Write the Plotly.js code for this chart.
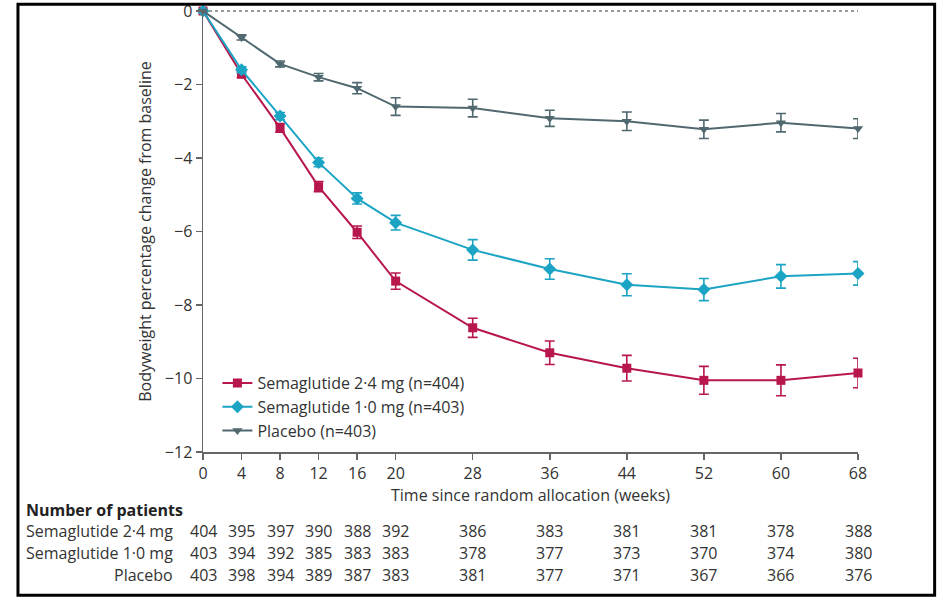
<!DOCTYPE html>
<html>
<head>
<meta charset="utf-8">
<script src="https://cdn.plot.ly/plotly-3.0.1.min.js"></script>
<style>
html,body{margin:0;padding:0;background:#fff;}
#chart{width:939px;height:599px;}
</style>
</head>
<body>
<div id="chart"></div>
<script>
const weeks = [0, 4, 8, 12, 16, 20, 28, 36, 44, 52, 60, 68];
const sema24 = [0, -1.72, -3.18, -4.78, -6.02, -7.35, -8.62, -9.3, -9.72, -10.05, -10.05, -9.85];
const sema24Err = [0, 0.09, 0.12, 0.14, 0.17, 0.22, 0.26, 0.32, 0.35, 0.38, 0.42, 0.4];
const sema10 = [0, -1.6, -2.86, -4.12, -5.1, -5.76, -6.5, -7.02, -7.45, -7.58, -7.22, -7.14];
const sema10Err = [0, 0.08, 0.1, 0.12, 0.15, 0.2, 0.28, 0.28, 0.3, 0.3, 0.32, 0.32];
const placebo = [0, -0.72, -1.44, -1.8, -2.1, -2.6, -2.64, -2.92, -3.0, -3.22, -3.04, -3.2];
const placeboErr = [0, 0.07, 0.08, 0.1, 0.15, 0.24, 0.24, 0.22, 0.25, 0.25, 0.25, 0.27];

const seriesNames = ['Semaglutide 2·4 mg (n=404)', 'Semaglutide 1·0 mg (n=403)', 'Placebo (n=403)'];
const tableLabels = ['Semaglutide 2·4 mg', 'Semaglutide 1·0 mg', 'Placebo'];
const patients24 = [404, 395, 397, 390, 388, 392, 386, 383, 381, 381, 378, 388];
const patients10 = [403, 394, 392, 385, 383, 383, 378, 377, 373, 370, 374, 380];
const patientsPl = [403, 398, 394, 389, 387, 383, 381, 377, 371, 367, 366, 376];
const yTicks = [0, -2, -4, -6, -8, -10, -12];

const red = '#b8174c', cyan = '#1ca4c4', slate = '#50686f';
const FONT = '"Open Sans", "Liberation Sans", sans-serif';
const txt = '#333';
const FS = 16;

function series(y, err, name, color, symbol, size) {
  return {
    x: weeks, y: y, name: name, type: 'scatter', mode: 'lines+markers',
    line: {color: color, width: 2},
    marker: {color: color, symbol: symbol, size: size},
    error_y: {type: 'data', array: err, visible: true, color: color, thickness: 1.6, width: 5},
    cliponaxis: false
  };
}

const data = [
  series(sema24, sema24Err, seriesNames[0], red, 'square', 9),
  series(sema10, sema10Err, seriesNames[1], cyan, 'diamond', 10),
  series(placebo, placeboErr, seriesNames[2], slate, 'triangle-down', 9)
];

const annotations = [];
const rowY = [-0.179, -0.229, -0.279];
const rows = [patients24, patients10, patientsPl];
rows.forEach((r, i) => {
  annotations.push({xref: 'paper', yref: 'paper', x: -0.043, y: rowY[i], xanchor: 'right', yanchor: 'middle',
    text: tableLabels[i], showarrow: false, font: {family: FONT, size: FS, color: txt}});
  r.forEach((v, j) => {
    annotations.push({xref: 'x', yref: 'paper', x: weeks[j], y: rowY[i], xanchor: 'center', yanchor: 'middle',
      text: String(v), showarrow: false, font: {family: FONT, size: FS, color: txt}});
  });
});
annotations.push({xref: 'paper', yref: 'paper', x: -0.274, y: -0.131, xanchor: 'left', yanchor: 'middle',
  text: '<b>Number of patients</b>', showarrow: false, font: {family: FONT, size: FS, color: '#222'}});

const layout = {
  width: 939, height: 599,
  margin: {l: 203, r: 81, t: 11, b: 147},
  paper_bgcolor: '#fff', plot_bgcolor: '#fff',
  font: {family: FONT, size: FS, color: txt},
  showlegend: true,
  legend: {x: 0.022, y: 0.195, xanchor: 'left', yanchor: 'top', bgcolor: 'rgba(0,0,0,0)',
    font: {family: FONT, size: FS, color: txt}, tracegroupgap: 0, itemwidth: 30},
  xaxis: {
    range: [0, 68], tickvals: weeks, ticktext: weeks.map(String),
    showline: true, linecolor: '#666', linewidth: 1.5, ticks: 'outside', ticklen: 6, tickcolor: '#666', tickwidth: 1.5,
    showgrid: false, zeroline: false, tickfont: {family: FONT, size: FS, color: txt}, ticklabeloverflow: 'allow',
    title: {text: 'Time since random allocation (weeks)', font: {family: FONT, size: FS, color: txt}, standoff: 4}
  },
  yaxis: {
    range: [-12, 0], tickvals: yTicks, ticktext: yTicks.map(v => v < 0 ? '−' + Math.abs(v) : String(v)),
    showline: true, linecolor: '#666', linewidth: 1.5, ticks: 'outside', ticklen: 6, tickcolor: '#666', tickwidth: 1.5,
    showgrid: false, zeroline: false, tickfont: {family: FONT, size: FS, color: txt}, ticklabeloverflow: 'allow',
    title: {text: 'Bodyweight percentage change from baseline', font: {family: FONT, size: FS, color: txt}, standoff: 9}
  },
  shapes: [
    {type: 'line', xref: 'paper', yref: 'paper', x0: 0, x1: 1, y0: 1, y1: 1, line: {color: '#999', width: 2, dash: 'dot'}, layer: 'below'},
    {type: 'rect', xref: 'paper', yref: 'paper', x0: -0.2825, x1: 1.117, y0: -0.325, y1: 1.0155, line: {color: '#000', width: 3}}
  ],
  annotations: annotations
};

Plotly.newPlot('chart', data, layout, {displayModeBar: false, staticPlot: true});
</script>
</body>
</html>
